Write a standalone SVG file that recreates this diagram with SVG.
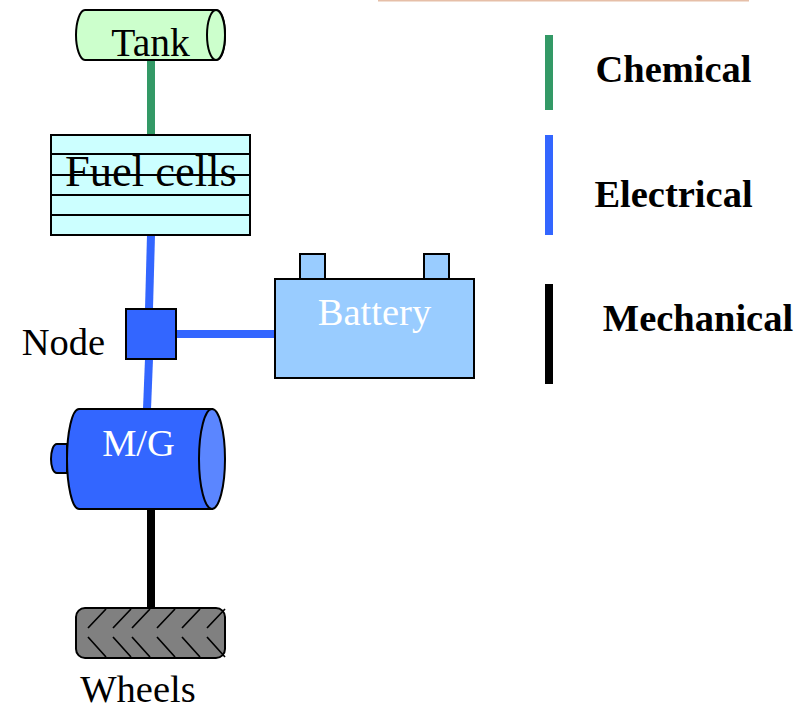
<svg xmlns="http://www.w3.org/2000/svg" width="799" height="706" viewBox="0 0 799 706">
<style>
.s{stroke:#000;stroke-width:2}
.t{font-family:"Liberation Serif","Times New Roman",serif;font-size:38.5px;fill:#000}
.w{fill:#fff}
.b{font-weight:bold}
.c{fill:none;stroke-width:8}
.th{fill:none;stroke:#000;stroke-width:1.7}
</style>
<rect width="799" height="706" fill="#fff"/>
<rect x="378" y="0" width="371" height="1.5" fill="#e6bfa8"/>
<g id="connectors">
<line class="c" x1="151" y1="60" x2="151" y2="135" stroke="#339966"/>
<line class="c" x1="151" y1="235" x2="149" y2="309" stroke="#3366ff"/>
<line class="c" x1="149" y1="359" x2="147" y2="409" stroke="#3366ff"/>
<line class="c" x1="176" y1="334" x2="275" y2="334" stroke="#3366ff"/>
<line class="c" x1="151" y1="509" x2="151" y2="608" stroke="#000"/>
</g>
<g id="tank">
<path class="s" fill="#ccffcc" d="M85 10H216C222 10 225 22 225 35C225 48 222 60 216 60H85C80 60 76 48 76 35C76 22 80 10 85 10Z"/>
<ellipse class="s" cx="216" cy="35" rx="9" ry="25" fill="#ccffcc"/>
<text class="t" x="150.500" y="55.500" text-anchor="middle" style="font-size:39.5px">Tank</text>
</g>
<g id="fuel-cells">
<rect class="s" x="51" y="135" width="199" height="100" fill="#ccffff"/>
<path class="s" fill="none" d="M51 154H250M51 175H250M51 195H250M51 215H250"/>
<text class="t" x="151" y="185.500" text-anchor="middle" style="font-size:44.500px">Fuel cells</text>
</g>
<g id="node">
<rect class="s" x="126" y="309" width="50" height="50" fill="#3366ff"/>
<text class="t" x="63.500" y="355" text-anchor="middle">Node</text>
</g>
<g id="battery">
<rect class="s" x="300" y="254" width="25" height="25" fill="#99ccff"/>
<rect class="s" x="424" y="254" width="25" height="25" fill="#99ccff"/>
<rect class="s" x="275" y="279" width="199" height="99" fill="#99ccff"/>
<text class="t w" x="374.500" y="325" text-anchor="middle">Battery</text>
</g>
<g id="mg">
<path class="s" fill="#3366ff" d="M67 444H57C53 444 51 452 51 459C51 466 53 473 57 473H67Z"/>
<path class="s" fill="#3366ff" d="M79 409H212V509H79C72 509 67 485 67 459C67 433 72 409 79 409Z"/>
<ellipse class="s" cx="212" cy="459" rx="13" ry="50" fill="#5b86ff"/>
<text class="t w" x="138.500" y="455.500" text-anchor="middle">M/G</text>
</g>
<g id="wheels">
<rect class="s" x="76" y="608" width="149" height="50" rx="9" fill="#808080"/>
<path class="th" d="M88 628L106 609M113 628L131 609M132 628L150 609M157 628L175 609M182 628L200 609M207 628L225 609M88 637L106 657M113 637L131 657M132 637L150 657M157 637L175 657M182 637L200 657M207 637L225 657"/>
<text class="t" x="138" y="702" text-anchor="middle">Wheels</text>
</g>
<g id="legend">
<rect x="545" y="35" width="8" height="75" fill="#339966"/>
<rect x="545" y="135" width="8" height="100" fill="#3366ff"/>
<rect x="545" y="284" width="8" height="100" fill="#000"/>
<text class="t b" x="673.500" y="82" text-anchor="middle">Chemical</text>
<text class="t b" x="673.500" y="207" text-anchor="middle">Electrical</text>
<text class="t b" x="698" y="331" text-anchor="middle">Mechanical</text>
</g>
</svg>
